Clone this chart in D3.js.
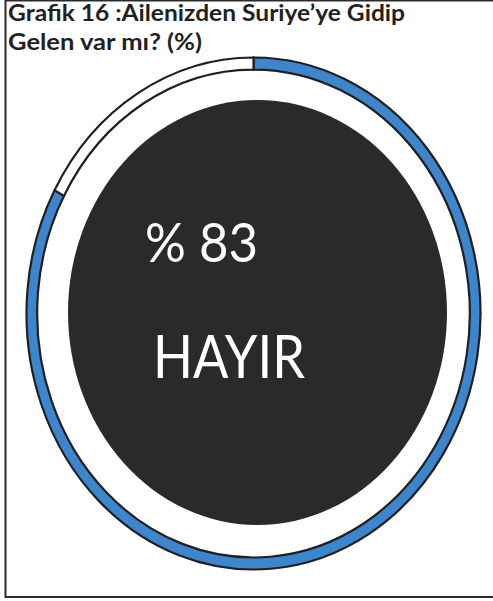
<!DOCTYPE html>
<html><head><meta charset="utf-8">
<script src="https://cdn.jsdelivr.net/npm/d3@7"></script>
<style>html,body{margin:0;padding:0;background:#fff;}svg{display:block;}</style>
</head><body>
<script>
const titleLines = ["Grafik 16 :Ailenizden Suriye’ye Gidip", "Gelen var mı? (%)"];
const categories = ["HAYIR", "EVET"];
const values = [83, 17];
const colors = ["#3b86cd", "#ffffff"];
const centerPercent = "% 83";
const centerLabel = "HAYIR";

const W = 493, H = 601;
const svg = d3.select("body").append("svg").attr("width", W).attr("height", H);

// frame
svg.append("rect").attr("x", 5.5).attr("y", 0.5).attr("width", 500).attr("height", 596.5)
  .attr("fill", "none").attr("stroke", "#2b2b2b").attr("stroke-width", 2);

const font = "Lato, sans-serif";
function fitText(sel, width) {
  sel.attr("textLength", width).attr("lengthAdjust", "spacingAndGlyphs");
}

// title
const t1 = svg.append("text").attr("x", 8).attr("y", 21).text(titleLines[0])
  .attr("font-family", font).attr("font-weight", "bold").attr("font-size", 20).attr("fill", "#231f20");
const w1 = t1.node().getComputedTextLength();
const tfs = Math.min(22, 20 * 397 / w1);
t1.attr("font-size", tfs);
fitText(t1, 397);
const t2 = svg.append("text").attr("x", 8).attr("y", 50).text(titleLines[1])
  .attr("font-family", font).attr("font-weight", "bold").attr("font-size", tfs).attr("fill", "#231f20");
fitText(t2, 194);

// ring (elliptical donut)
const cx = 253.5, cy = 313.5, rx = 227, ry = 256;
const R = 100;
const pie = d3.pie().sort(null).value(d => d.v);
const data = pie(categories.map((c, i) => ({c, v: values[i]})));
const arc = d3.arc().innerRadius(R * 0.953).outerRadius(R);
const g = svg.append("g").attr("transform", `translate(${cx},${cy}) scale(${rx / R},${ry / R})`);
g.selectAll("path").data(data).enter().append("path")
  .attr("d", arc)
  .attr("fill", (d, i) => colors[i])
  .attr("stroke", "#231f20").attr("stroke-width", 2.2)
  .attr("vector-effect", "non-scaling-stroke");

// center ellipse
svg.append("ellipse").attr("cx", 257.5).attr("cy", 312.5).attr("rx", 189.5).attr("ry", 212.5)
  .attr("fill", "#2b2a29");

// center texts
const p = svg.append("text").attr("x", 145).attr("y", 262).text(centerPercent)
  .attr("font-family", font).attr("font-size", 54).attr("fill", "#fff");
fitText(p, 113);
const h = svg.append("text").attr("x", 153).attr("y", 378).text(centerLabel)
  .attr("font-family", font).attr("font-size", 60).attr("fill", "#fff");
fitText(h, 152);
</script>
</body></html>
